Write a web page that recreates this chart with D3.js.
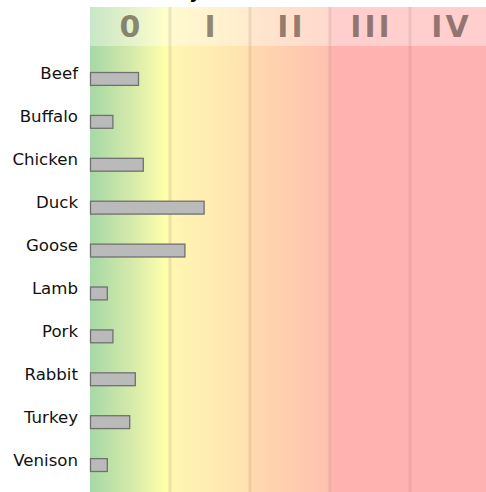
<!DOCTYPE html>
<html>
<head>
<meta charset="utf-8">
<script src="https://cdn.jsdelivr.net/npm/d3@7"></script>
<style>
  body { margin: 0; background: #fff; }
  text { font-family: "DejaVu Sans", sans-serif; }
</style>
</head>
<body>
<svg id="chart" width="486" height="492"></svg>
<script>
// data
var foods = ["Beef", "Buffalo", "Chicken", "Duck", "Goose", "Lamb", "Pork", "Rabbit", "Turkey", "Venison"];
var values = [0.6, 0.28, 0.66, 1.42, 1.18, 0.21, 0.28, 0.56, 0.49, 0.21];
var classes = ["0", "I", "II", "III", "IV"];

var svg = d3.select("#chart"),
    margin = {top: 7, left: 90},
    width = 400,
    headerH = 39,
    bottom = +svg.attr("height");

var x = d3.scaleLinear()
    .domain([0, classes.length])
    .range([margin.left, margin.left + width]);

var y = d3.scaleBand()
    .domain(foods)
    .range([57, 486])
    .paddingInner(0.7)
    .paddingOuter(0.35);

// background gradient, green -> yellow -> orange -> red
var defs = svg.append("defs");
var grad = defs.append("linearGradient")
    .attr("id", "bg")
    .attr("gradientUnits", "userSpaceOnUse")
    .attr("x1", x(0)).attr("x2", x(5))
    .attr("y1", 0).attr("y2", 0);

var stops = [
  [0, "#a6d8a6"], [0.1, "#d4e9aa"], [0.19, "#ffffaa"],
  [0.205, "#fff6b2"], [0.39, "#ffe2b0"], [0.41, "#ffd8ae"],
  [0.59, "#ffc2b0"], [0.61, "#ffb2b0"], [1, "#ffb2b2"]
];
grad.selectAll("stop")
    .data(stops)
    .enter().append("stop")
      .attr("offset", function(d) { return d[0]; })
      .attr("stop-color", function(d) { return d[1]; });

svg.append("rect")
    .attr("x", x(0))
    .attr("y", margin.top)
    .attr("width", width)
    .attr("height", bottom - margin.top)
    .attr("fill", "url(#bg)");

// lighter header strip
svg.append("rect")
    .attr("x", x(0))
    .attr("y", margin.top)
    .attr("width", width)
    .attr("height", headerH)
    .attr("fill", "#fff")
    .attr("opacity", 0.38);

// class boundaries
svg.append("g")
  .selectAll("line")
  .data(d3.range(1, classes.length))
  .enter().append("line")
    .attr("x1", function(d) { return x(d); })
    .attr("x2", function(d) { return x(d); })
    .attr("y1", margin.top)
    .attr("y2", bottom)
    .attr("stroke", "#a08070")
    .attr("stroke-width", 3)
    .attr("opacity", 0.18);

// class labels
svg.append("g")
  .selectAll("text")
  .data(classes)
  .enter().append("text")
    .attr("x", function(d, i) { return x(i + 0.5) + 1.5; })
    .attr("y", 37)
    .attr("text-anchor", "middle")
    .attr("font-size", 30)
    .attr("font-weight", "bold")
    .attr("letter-spacing", 3)
    .attr("fill", "#2a1a10")
    .attr("fill-opacity", 0.5)
    .text(function(d) { return d; });

// title, mostly cut off at the top edge as in the source
svg.append("text")
    .attr("x", 201)
    .attr("y", -2)
    .attr("text-anchor", "end")
    .attr("font-size", 18)
    .attr("font-weight", "bold")
    .text("Toxicity");

// bars
svg.append("g")
  .selectAll("rect")
  .data(foods)
  .enter().append("rect")
    .attr("x", x(0) + 0.5)
    .attr("y", function(d) { return y(d) + 0.5; })
    .attr("width", function(d, i) { return x(values[i]) - x(0); })
    .attr("height", y.bandwidth())
    .attr("fill", "#bababa")
    .attr("stroke", "#707070")
    .attr("stroke-width", 1.3);

// food labels
svg.append("g")
  .selectAll("text")
  .data(foods)
  .enter().append("text")
    .attr("x", 78)
    .attr("y", function(d) { return y(d) + y.bandwidth() / 2 + 1; })
    .attr("text-anchor", "end")
    .attr("font-size", 16.6)
    .attr("fill", "#111")
    .text(function(d) { return d; });
</script>
</body>
</html>
